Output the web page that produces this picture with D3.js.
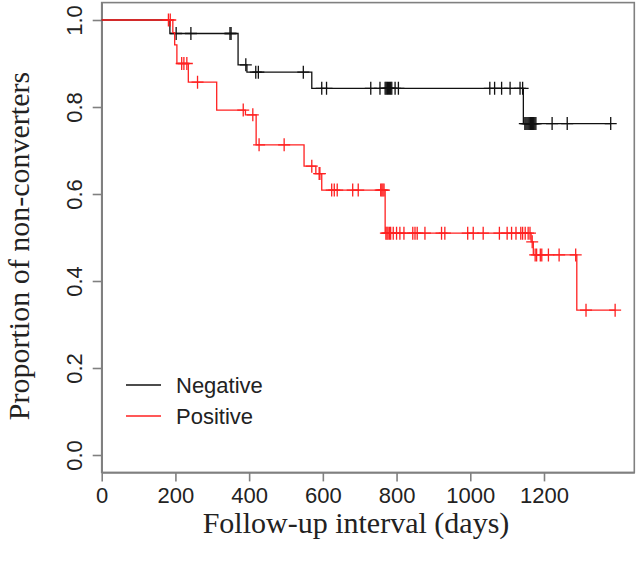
<!DOCTYPE html>
<html>
<head>
<meta charset="utf-8">
<script src="https://cdn.jsdelivr.net/npm/d3@7"></script>
<style>
  html, body { margin: 0; padding: 0; background: #fff; }
  svg { display: block; }
</style>
</head>
<body>
<svg id="chart" width="640" height="563"></svg>
<script>
// ---- data ----
const xTicks = [0, 200, 400, 600, 800, 1000, 1200];
const yTicks = [0.0, 0.2, 0.4, 0.6, 0.8, 1.0];
const seriesNames = ["Negative", "Positive"];
const seriesColors = ["#111111", "#ff2020"];

const negDropTimes = [185, 370, 394, 570, 1144];
const negSurv      = [0.969, 0.897, 0.880, 0.843, 0.762];
const negCensor = [202, 242, 348, 351, 391, 418, 425, 547, 597, 610, 730, 755,
  769, 772, 775, 778, 781, 784, 787, 796, 805, 1053, 1066, 1085, 1108, 1135, 1142,
  1148, 1151, 1154, 1157, 1160, 1163, 1166, 1169, 1172, 1175, 1178, 1222, 1263, 1381];

const posDropTimes = [193, 198, 204, 235, 312, 390, 419, 549, 581, 597, 769, 1165, 1171, 1289];
const posSurv      = [0.971, 0.943, 0.900, 0.857, 0.793, 0.782, 0.713, 0.664, 0.647, 0.609, 0.510, 0.490, 0.460, 0.333];
const posCensor = [181, 186, 217, 223, 231, 260, 384, 410, 427, 495, 570, 590, 592,
  624, 631, 639, 681, 696, 757, 760, 763, 766, 771, 774, 777, 781, 784, 791, 800, 809,
  820, 844, 850, 856, 877, 922, 931, 993, 1008, 1035, 1079, 1100, 1112, 1124, 1137,
  1142, 1149, 1157, 1162, 1168, 1176, 1180, 1190, 1194, 1212, 1241, 1286, 1314, 1393];

// ---- layout ----
const svg = d3.select("#chart");
const box = { left: 101.7, right: 634.3, top: 2.6, bottom: 472.4 };
const x = d3.scaleLinear().domain([0, 1445]).range([box.left, box.right]);
const y = d3.scaleLinear().domain([-0.04, 1.04]).range([box.bottom, box.top]);
const axisColor = "#808080";
const sansFont = "'Liberation Sans', Arial, sans-serif";
const serifFont = "'Liberation Serif', 'Times New Roman', serif";

// box
svg.append("rect")
  .attr("x", box.left).attr("y", box.top)
  .attr("width", box.right - box.left).attr("height", box.bottom - box.top)
  .attr("fill", "none").attr("stroke", axisColor).attr("stroke-width", 1.6);

// x axis
const gx = svg.append("g").attr("transform", `translate(0,${box.bottom})`)
  .call(d3.axisBottom(x).tickValues(xTicks).tickSizeInner(9).tickSizeOuter(0)
    .tickFormat(d3.format("d")));
gx.select(".domain").attr("stroke", axisColor).attr("stroke-width", 1.6);
gx.selectAll(".tick line").attr("stroke", axisColor).attr("stroke-width", 1.6);
gx.selectAll(".tick text").attr("font-family", sansFont).attr("font-size", 22)
  .attr("fill", "#222").attr("dy", null).attr("y", 31);

// y axis
const gy = svg.append("g").attr("transform", `translate(${box.left},0)`)
  .call(d3.axisLeft(y).tickValues(yTicks).tickSizeInner(9).tickSizeOuter(0)
    .tickFormat(d3.format(".1f")));
gy.select(".domain").attr("stroke", axisColor).attr("stroke-width", 1.6);
gy.selectAll(".tick line").attr("stroke", axisColor).attr("stroke-width", 1.6);
gy.selectAll(".tick text")
  .attr("font-family", sansFont).attr("font-size", 22).attr("fill", "#222")
  .attr("x", null).attr("dy", null)
  .attr("text-anchor", "middle")
  .attr("transform", "translate(-20,0) rotate(-90)");

// axis titles
svg.append("text")
  .attr("x", 356).attr("y", 533)
  .attr("text-anchor", "middle")
  .attr("font-family", serifFont).attr("font-size", 30).attr("fill", "#222")
  .text("Follow-up interval (days)");
svg.append("text")
  .attr("transform", "translate(29,246) rotate(-90)")
  .attr("text-anchor", "middle")
  .attr("font-family", serifFont).attr("font-size", 30).attr("fill", "#222")
  .text("Proportion of non-converters");

// ---- curves ----
function stepValue(times, surv, t) {
  const i = d3.bisectRight(times, t);
  return i === 0 ? 1 : surv[i - 1];
}
function drawCurve(times, surv, censor, color) {
  const end = d3.max(censor);
  let d = `M${x(0)},${y(1)}`;
  times.forEach((t, i) => { d += `H${x(t)}V${y(surv[i])}`; });
  d += `H${x(end)}`;
  const g = svg.append("g");
  g.append("path").attr("d", d).attr("fill", "none")
    .attr("stroke", color).attr("stroke-width", 1.3);
  g.selectAll("path.cens").data(censor).join("path")
    .attr("class", "cens")
    .attr("d", t => {
      const cx = x(t), cy = y(stepValue(times, surv, t));
      return `M${cx - 6},${cy}H${cx + 6}M${cx},${cy - 6.5}V${cy + 6.5}`;
    })
    .attr("fill", "none").attr("stroke", color).attr("stroke-width", 1.3);
}
drawCurve(negDropTimes, negSurv, negCensor, seriesColors[0]);
drawCurve(posDropTimes, posSurv, posCensor, seriesColors[1]);

// ---- legend ----
const legend = svg.append("g");
seriesNames.forEach((name, i) => {
  const ly = 385 + i * 31;
  legend.append("line").attr("x1", 126).attr("x2", 161).attr("y1", ly).attr("y2", ly)
    .attr("stroke", seriesColors[i]).attr("stroke-width", 1.3);
  legend.append("text").attr("x", 176).attr("y", ly).attr("dy", "0.35em")
    .attr("font-family", sansFont).attr("font-size", 22).attr("fill", "#222")
    .text(name);
});
</script>
</body>
</html>
